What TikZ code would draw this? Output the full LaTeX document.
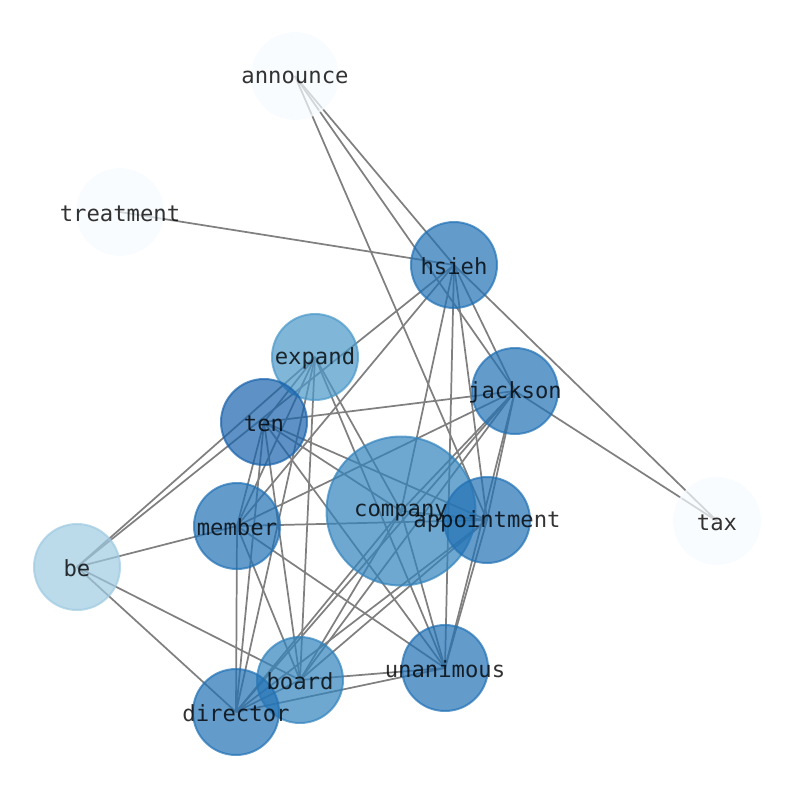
\documentclass[tikz,border=0pt]{standalone}
\usepackage{fontspec}
\setmonofont{DejaVu Sans Mono}
\pgfdeclarelayer{bg}
\pgfdeclarelayer{fg}
\pgfsetlayers{bg,main,fg}
\definecolor{cLight}{HTML}{F7FBFF}
\definecolor{cBe}{HTML}{9ECAE1}
\definecolor{cExp}{HTML}{4A98C9}
\definecolor{cMid}{HTML}{3183BD}
\definecolor{cDark}{HTML}{2171B5}
\definecolor{cTen}{HTML}{1963AC}
\tikzset{
  nd/.style={circle, minimum size=64.5pt, inner sep=0pt, line width=1.5pt, opacity=0.7, draw=#1, fill=#1},
  bignd/.style={nd=#1, minimum size=111.75pt},
  lbl/.style={font=\ttfamily\fontsize{16.67}{20}\selectfont, text=black, text opacity=0.8, inner sep=0pt, yshift=-1.2pt},
  edge/.style={draw=gray, line width=1.3pt}
}
\begin{document}
\begin{tikzpicture}[x=0.75pt,y=-0.75pt]
\useasboundingbox (0,0) rectangle (794,790);
% nodes
\node[nd=cLight] (announce) at (295,76) {};
\node[nd=cLight] (treatment) at (120,212) {};
\node[nd=cDark] (hsieh) at (454,265) {};
\node[nd=cExp] (expand) at (315,357) {};
\node[nd=cDark] (jackson) at (515,391) {};
\node[nd=cTen] (ten) at (264,422) {};
\node[bignd=cMid] (company) at (401,511) {};
\node[nd=cDark] (appointment) at (487,520) {};
\node[nd=cLight] (tax) at (717,521) {};
\node[nd=cDark] (member) at (237,526) {};
\node[nd=cBe] (be) at (77,567) {};
\node[nd=cDark] (unanimous) at (445,668) {};
\node[nd=cMid] (board) at (300,680) {};
\node[nd=cDark] (director) at (236,712) {};
% edges
\begin{pgfonlayer}{bg}
\foreach \a/\b in {announce/hsieh, announce/jackson, announce/appointment,
  treatment/hsieh,
  hsieh/be, hsieh/member, hsieh/company, hsieh/unanimous, hsieh/appointment, hsieh/jackson, hsieh/tax,
  jackson/tax,
  be/expand, be/member, be/board, be/director,
  expand/ten, expand/member, expand/board, expand/director, expand/unanimous, expand/company,
  ten/jackson, ten/unanimous, ten/member, ten/director, ten/board, ten/appointment, ten/company,
  member/director, member/board, member/unanimous, member/appointment, member/jackson,
  director/board, director/unanimous, director/jackson, director/company, director/appointment,
  board/unanimous, board/jackson, board/company, board/appointment,
  unanimous/jackson, unanimous/appointment, unanimous/company,
  jackson/appointment, jackson/company, company/appointment}
  \draw[edge] (\a.center) -- (\b.center);
\end{pgfonlayer}
% labels
\begin{pgfonlayer}{fg}
\foreach \n in {announce, treatment, hsieh, expand, jackson, ten, company, appointment, tax, member, be, unanimous, board, director}
  \node[lbl] (l\n) at (\n.center) {\n};
\end{pgfonlayer}
\end{tikzpicture}
\end{document}
